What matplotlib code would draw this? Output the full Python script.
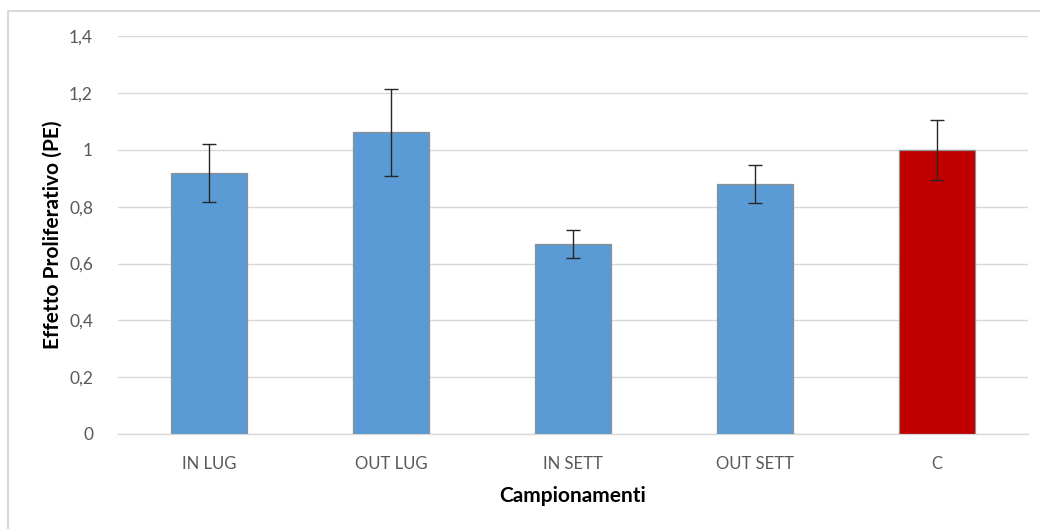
import matplotlib
matplotlib.use("Agg")
import matplotlib.pyplot as plt
from matplotlib.patches import Rectangle

# Sampling campaigns and proliferative effect (mean ± error)
categories = ["IN LUG", "OUT LUG", "IN SETT", "OUT SETT", "C"]
pe_values = [0.918, 1.062, 0.670, 0.879, 1.000]
pe_errors = [0.102, 0.153, 0.049, 0.067, 0.107]
bar_colors = ["#5B9BD5", "#5B9BD5", "#5B9BD5", "#5B9BD5", "#C00000"]
y_ticks = [0, 0.2, 0.4, 0.6, 0.8, 1.0, 1.2, 1.4]
y_tick_labels = ["0", "0,2", "0,4", "0,6", "0,8", "1", "1,2", "1,4"]

plt.rcParams["font.family"] = ["Lato", "DejaVu Sans"]

fig = plt.figure(figsize=(10.40, 5.29), dpi=100)
ax = fig.add_axes([118 / 1040, 1 - 434 / 529, 910 / 1040, (434 - 36.4) / 529])

x = list(range(len(categories)))
ax.bar(x, pe_values, width=0.42, color=bar_colors, edgecolor="#8f8f8f",
       linewidth=0.9, zorder=3)
ax.errorbar(x, pe_values, yerr=pe_errors, fmt="none", ecolor="#262626",
            elinewidth=1.0, capsize=5, capthick=1.0, zorder=4)

ax.set_xlim(-0.5, len(categories) - 0.5)
ax.set_ylim(0, 1.4)
ax.set_yticks(y_ticks)
ax.set_yticklabels(y_tick_labels)
ax.set_xticks(x)
ax.set_xticklabels(categories)

ax.yaxis.grid(True, color="#d9d9d9", linewidth=1.0, zorder=0)
ax.set_axisbelow(True)
for side in ("top", "right", "left"):
    ax.spines[side].set_visible(False)
ax.spines["bottom"].set_color("#d9d9d9")
ax.spines["bottom"].set_linewidth(1.0)
ax.tick_params(axis="x", length=0, labelsize=12, labelcolor="#595959", pad=16)
ax.tick_params(axis="y", length=0, labelsize=12.5, labelcolor="#595959", pad=18)

ax.set_ylabel("Effetto Proliferativo (PE)", fontsize=15, fontweight="bold",
              color="black", va="center")
ax.yaxis.set_label_coords(-0.0714, 0.5)
ax.set_xlabel("Campionamenti", fontsize=15, fontweight="bold", color="black",
              labelpad=10)

# Chart area frame
fig.patches.append(Rectangle((8 / 1040, -0.1), 1.2, 1 - 11 / 529 + 0.1,
                             transform=fig.transFigure, fill=False,
                             edgecolor="#d9d9d9", linewidth=1.5))

fig.savefig("out.png", dpi=100)
